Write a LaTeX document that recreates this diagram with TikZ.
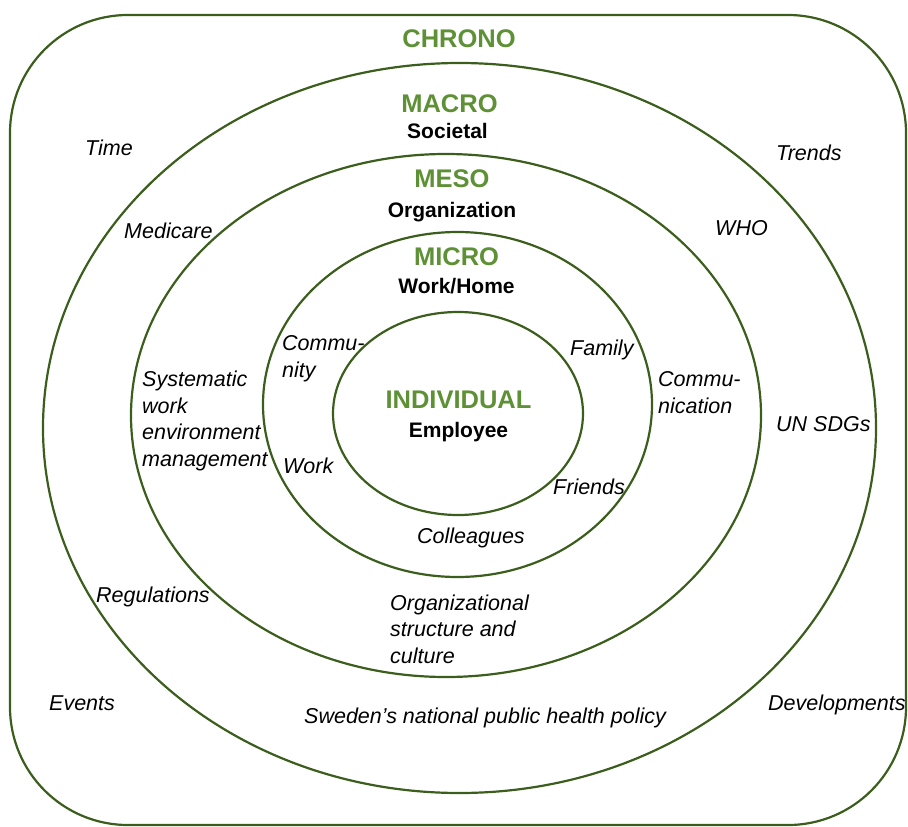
\documentclass[tikz,border=0pt]{standalone}
\usepackage{fontspec}
\setmainfont{Liberation Sans}
\usetikzlibrary{shapes.geometric}

\definecolor{ringgreen}{HTML}{3B5E1D}
\definecolor{titlegreen}{HTML}{5E9035}

\begin{document}
\begin{tikzpicture}[
  x=1pt, y=-1pt,
  ring/.style={ellipse, draw=ringgreen, line width=2.2pt, inner sep=0pt},
  level/.style={font=\bfseries\fontsize{25.5}{28}\selectfont, text=titlegreen, inner sep=0pt, anchor=base},
  sub/.style={font=\bfseries\fontsize{21}{24}\selectfont, inner sep=0pt, anchor=base},
  factor/.style={font=\itshape\fontsize{21.5}{26.5}\selectfont, align=left, inner sep=0pt, anchor=base west}
]
\useasboundingbox (0,0) rectangle (908,827);

% chrono frame
\draw[ringgreen, line width=2.2pt, rounded corners=118pt] (10,15) rectangle (906,825);

% nested rings
\node[ring, minimum width=833pt, minimum height=730pt] (macro) at (459.5,428) {};
\node[ring, minimum width=630pt, minimum height=523pt] (meso) at (446,415.5) {};
\node[ring, minimum width=389pt, minimum height=345pt] (micro) at (457.5,404.5) {};
\node[ring, minimum width=250pt, minimum height=203pt] (individual) at (458,413.5) {};

% level titles
\node[level] (chronoT) at (459,47) {CHRONO};
\node[level] (macroT) at (449.5,112) {MACRO};
\node[sub] (macroS) at (447.5,138) {Societal};
\node[level] (mesoT) at (452,187) {MESO};
\node[sub] (mesoS) at (452,217) {Organization};
\node[level] (microT) at (456.5,265) {MICRO};
\node[sub] (microS) at (456.5,293) {Work/Home};
\node[level] (indivT) at (458.5,408) {INDIVIDUAL};
\node[sub] (indivS) at (458.5,437) {Employee};

% chrono factors
\node[factor] (time) at (85,155) {Time};
\node[factor] (trends) at (776,160) {Trends};
\node[factor] (events) at (49,710) {Events};
\node[factor] (develop) at (768,710) {Developments};

% macro factors
\node[factor] (medicare) at (124,238) {Medicare};
\node[factor] (who) at (715,235) {WHO};
\node[factor] (sdgs) at (776,431) {UN SDGs};
\node[factor] (regul) at (96,602) {Regulations};
\node[factor] (policy) at (304,723) {Sweden’s national public health policy};

% meso factors (base = last line)
\node[factor] (swem) at (142,466) {Systematic\\work\\environment\\management};
\node[factor] (commun) at (658,413) {Commu-\\nication};
\node[factor] (orgcult) at (390,663) {Organizational\\structure and\\culture};

% micro factors
\node[factor] (community) at (282,377) {Commu-\\nity};
\node[factor] (family) at (570,355) {Family};
\node[factor] (work) at (283,473) {Work};
\node[factor] (friends) at (553,494) {Friends};
\node[factor] (colleag) at (417,543) {Colleagues};

\end{tikzpicture}
\end{document}
